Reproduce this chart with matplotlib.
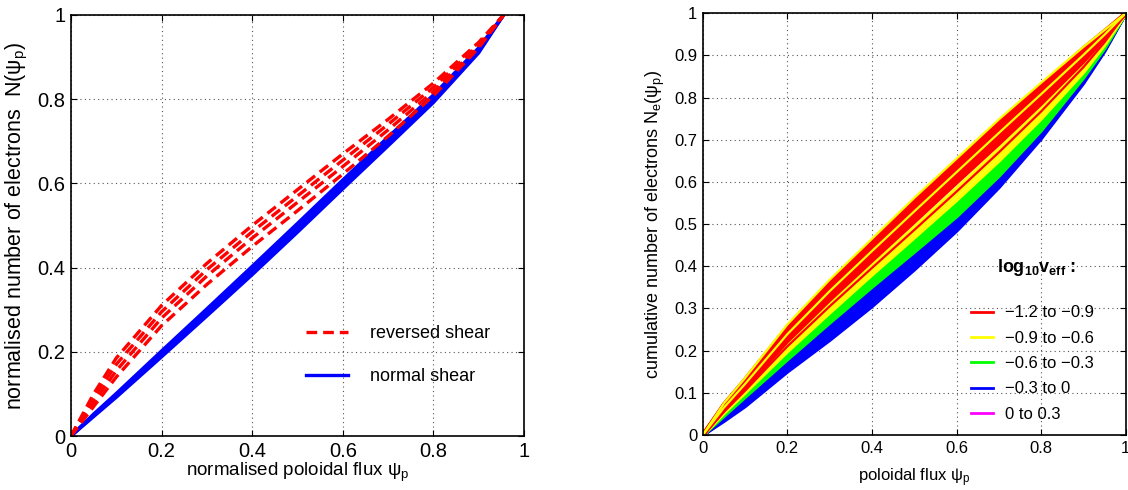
import numpy as np
import matplotlib
matplotlib.use("Agg")
import matplotlib.pyplot as plt
from matplotlib.lines import Line2D

plt.rcParams['font.family'] = ['Liberation Sans', 'DejaVu Sans']
plt.rcParams['mathtext.fontset'] = 'custom'
plt.rcParams['mathtext.rm'] = 'Liberation Sans'
plt.rcParams['mathtext.it'] = 'Liberation Sans:italic'
plt.rcParams['mathtext.bf'] = 'Liberation Sans:bold'
plt.rcParams['mathtext.default'] = 'regular'

# ---- left panel: normalised N(psi_p) ----
x_left = [0, 0.05, 0.1, 0.2, 0.3, 0.4, 0.5, 0.6, 0.7, 0.8, 0.9, 0.955]

reversed_shear = [
    [0, 0.100, 0.185, 0.310, 0.410, 0.500, 0.585, 0.670, 0.752, 0.838, 0.935, 1],
    [0, 0.090, 0.170, 0.295, 0.395, 0.485, 0.570, 0.655, 0.740, 0.828, 0.930, 1],
    [0, 0.080, 0.155, 0.280, 0.380, 0.470, 0.555, 0.640, 0.727, 0.818, 0.926, 1],
    [0, 0.070, 0.140, 0.262, 0.360, 0.450, 0.535, 0.622, 0.712, 0.808, 0.922, 1],
]
normal_shear = [
    [0, 0.046, 0.092, 0.188, 0.285, 0.383, 0.484, 0.587, 0.689, 0.792, 0.910, 1],
    [0, 0.048, 0.095, 0.193, 0.291, 0.390, 0.491, 0.594, 0.696, 0.798, 0.914, 1],
    [0, 0.050, 0.098, 0.198, 0.297, 0.397, 0.498, 0.601, 0.703, 0.804, 0.918, 1],
    [0, 0.052, 0.101, 0.202, 0.302, 0.403, 0.505, 0.608, 0.710, 0.810, 0.922, 1],
]

# ---- right panel: cumulative N_e(psi_p) grouped by log10 nu_eff ----
x_right = [0, 0.05, 0.1, 0.2, 0.3, 0.4, 0.5, 0.6, 0.7, 0.8, 0.9, 0.95, 1]

nu_blue = [
    [0, 0.043, 0.086, 0.176, 0.261, 0.345, 0.428, 0.513, 0.609, 0.720, 0.847, 0.918, 1],
    [0, 0.041, 0.081, 0.169, 0.252, 0.335, 0.419, 0.505, 0.603, 0.716, 0.844, 0.916, 1],
    [0, 0.038, 0.077, 0.163, 0.243, 0.325, 0.410, 0.498, 0.598, 0.712, 0.841, 0.914, 1],
    [0, 0.036, 0.072, 0.156, 0.234, 0.315, 0.401, 0.490, 0.592, 0.708, 0.838, 0.912, 1],
    [0, 0.033, 0.068, 0.150, 0.225, 0.305, 0.392, 0.484, 0.587, 0.703, 0.834, 0.910, 1],
]
nu_green = [
    [0, 0.051, 0.098, 0.193, 0.284, 0.372, 0.458, 0.546, 0.640, 0.741, 0.856, 0.923, 1],
    [0, 0.049, 0.095, 0.188, 0.278, 0.365, 0.450, 0.536, 0.631, 0.735, 0.853, 0.921, 1],
    [0, 0.047, 0.093, 0.184, 0.272, 0.358, 0.442, 0.527, 0.622, 0.728, 0.850, 0.919, 1],
    [0, 0.045, 0.090, 0.179, 0.266, 0.351, 0.434, 0.518, 0.614, 0.722, 0.847, 0.917, 1],
]
nu_yellow = [
    [0, 0.056, 0.107, 0.215, 0.311, 0.402, 0.492, 0.584, 0.677, 0.773, 0.876, 0.934, 1],
    [0, 0.054, 0.103, 0.206, 0.300, 0.391, 0.480, 0.570, 0.663, 0.761, 0.868, 0.929, 1],
    [0, 0.052, 0.100, 0.198, 0.290, 0.380, 0.468, 0.557, 0.650, 0.750, 0.860, 0.925, 1],
]
nu_red = [
    [0, 0.073, 0.132, 0.257, 0.362, 0.459, 0.556, 0.649, 0.742, 0.830, 0.917, 0.958, 1],
    [0, 0.070, 0.128, 0.250, 0.354, 0.450, 0.546, 0.639, 0.732, 0.821, 0.911, 0.954, 1],
    [0, 0.067, 0.123, 0.243, 0.345, 0.441, 0.536, 0.629, 0.721, 0.812, 0.904, 0.951, 1],
    [0, 0.064, 0.119, 0.236, 0.337, 0.431, 0.525, 0.618, 0.711, 0.803, 0.898, 0.947, 1],
    [0, 0.061, 0.114, 0.229, 0.328, 0.422, 0.515, 0.608, 0.700, 0.794, 0.891, 0.944, 1],
    [0, 0.058, 0.110, 0.222, 0.320, 0.413, 0.505, 0.598, 0.690, 0.785, 0.885, 0.940, 1],
]
# yellow curves on the upper edge / inside the red band
nu_yellow_top = [
    [0, 0.075, 0.135, 0.262, 0.368, 0.465, 0.562, 0.655, 0.748, 0.835, 0.920, 0.960, 1],
    [0, 0.065, 0.121, 0.239, 0.341, 0.436, 0.530, 0.623, 0.716, 0.808, 0.901, 0.949, 1],
]
# a red curve lying among the yellow ones
nu_red_low = [
    [0, 0.055, 0.105, 0.210, 0.305, 0.396, 0.486, 0.577, 0.670, 0.767, 0.872, 0.931, 1],
]

legend_labels = ['\u22121.2 to \u22120.9', '\u22120.9 to \u22120.6', '\u22120.6 to \u22120.3',
                 '\u22120.3 to 0', '0 to 0.3']
legend_colors = ['#ff0000', '#ffff00', '#00ff00', '#0000ff', '#ff00ff']

fig = plt.figure(figsize=(11.28, 4.9), dpi=100)
axL = fig.add_axes([0.0629, 0.1102, 0.4016, 0.8592])
axR = fig.add_axes([0.623, 0.1122, 0.375, 0.861])


def style_axes(ax, fs):
    ax.set_xlim(0, 1)
    ax.set_ylim(0, 1)
    ax.grid(True, linestyle=(0, (1, 3)), color='#555555', linewidth=0.8)
    ax.tick_params(direction='in', length=4, labelsize=fs, top=True, right=True, pad=4)
    for s in ax.spines.values():
        s.set_linewidth(1.2)
    ax.xaxis.set_major_formatter(plt.FuncFormatter(lambda v, p: ('%g' % v)))
    ax.yaxis.set_major_formatter(plt.FuncFormatter(lambda v, p: ('%g' % v)))


# left panel
for yv in normal_shear:
    axL.plot(x_left, yv, color='#0000ff', lw=2.4, solid_capstyle='butt')
for yv in reversed_shear:
    axL.plot(x_left, yv, color='#ff0000', lw=2.4, dashes=(3.2, 1.8))
style_axes(axL, 14.5)
axL.set_xticks([0, 0.2, 0.4, 0.6, 0.8, 1])
axL.set_yticks([0, 0.2, 0.4, 0.6, 0.8, 1])
axL.set_xlabel(r'normalised poloidal flux $\psi_p$', fontsize=13.5, labelpad=0)
axL.set_ylabel(r'normalised number of electrons  N($\psi_p$)', fontsize=15.5, labelpad=5)
hL = [Line2D([], [], color='#ff0000', lw=2.4, dashes=(3.2, 1.8)),
      Line2D([], [], color='#0000ff', lw=2.4)]
axL.legend(hL, ['reversed shear', 'normal shear'], loc='upper left',
           bbox_to_anchor=(0.5, 0.285), frameon=False, fontsize=13,
           handlelength=2.3, handletextpad=1.2, labelspacing=1.45, borderpad=0)

# right panel
for yv in nu_blue:
    axR.plot(x_right, yv, color='#0000ff', lw=2.8)
for yv in nu_green:
    axR.plot(x_right, yv, color='#00ff00', lw=2.8)
for yv in nu_yellow:
    axR.plot(x_right, yv, color='#ffff00', lw=2.8)
for yv in nu_red_low:
    axR.plot(x_right, yv, color='#ff0000', lw=1.6)
for yv in nu_red:
    axR.plot(x_right, yv, color='#ff0000', lw=2.8)
for yv in nu_yellow_top:
    axR.plot(x_right, yv, color='#ffff00', lw=1.6)
style_axes(axR, 12)
axR.set_xticks([0, 0.2, 0.4, 0.6, 0.8, 1])
axR.set_yticks(np.arange(0, 1.01, 0.1))
axR.set_xlabel(r'poloidal flux $\psi_p$', fontsize=12, labelpad=8)
axR.set_ylabel(r'cumulative number of electrons N$_e$($\psi_p$)', fontsize=13, labelpad=5)
hR = [Line2D([], [], color=c, lw=2) for c in legend_colors]
axR.legend(hR, legend_labels, loc='upper left', bbox_to_anchor=(0.615, 0.327),
           frameon=False, fontsize=12, handlelength=1.3, handletextpad=0.75,
           labelspacing=0.62, borderpad=0)
axR.text(0.695, 0.398, r'$\mathbf{log_{10}v_{eff}}$ :', transform=axR.transAxes,
         fontsize=13, fontweight='bold', ha='left', va='center')

fig.savefig('out.png', dpi=100)
